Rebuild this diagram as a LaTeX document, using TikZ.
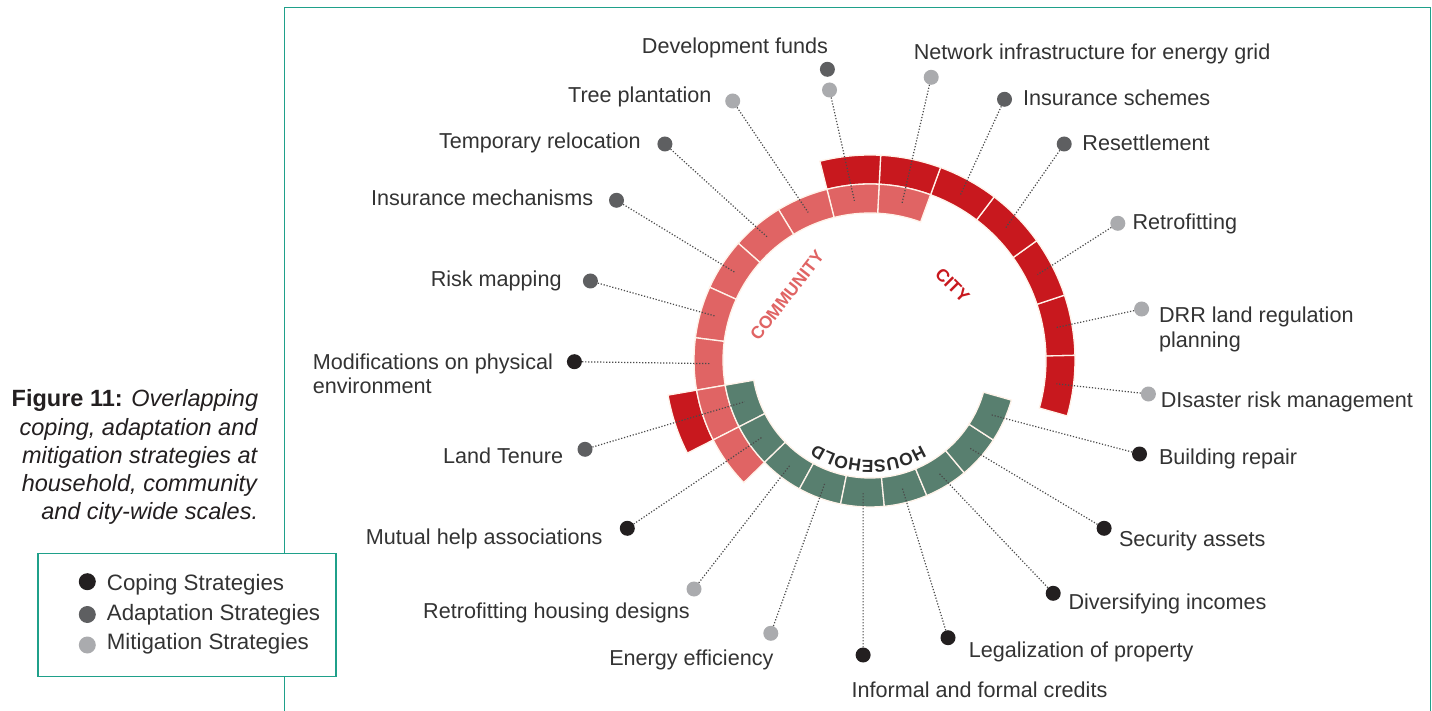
\documentclass[tikz,border=0pt]{standalone}
\usepackage{fontspec}
\setmainfont{Liberation Sans}
\usetikzlibrary{decorations.text}
\definecolor{cityc}{HTML}{C8181E}
\definecolor{commc}{HTML}{E06464}
\definecolor{housec}{HTML}{587F6F}
\definecolor{sepc}{HTML}{FFF3EA}
\definecolor{frmc}{HTML}{1FA08A}
\definecolor{txtc}{HTML}{333333}
\definecolor{copc}{HTML}{231F20}
\definecolor{adac}{HTML}{5E5F61}
\definecolor{mitc}{HTML}{AAABAE}
\definecolor{leadc}{HTML}{4A4A4A}
\definecolor{hhc}{HTML}{2A2A2A}
\newcommand\hhfont{\fontsize{17.5}{18}\selectfont\bfseries\color{hhc}}
\newcommand\ringseg[4]{%
  \pgfmathsetmacro\segA{1.3+#1*360/21}%
  \pgfmathsetmacro\segB{1.3+(#1+1)*360/21}%
  \path[segment, fill=#4] (\segA:#2pt) arc[start angle=\segA, end angle=\segB, radius=#2pt]
    -- (\segB:#3pt) arc[start angle=\segB, end angle=\segA, radius=#3pt] -- cycle;}
\begin{document}
\begin{tikzpicture}[x=1pt, y=-1pt,
  frameline/.style={draw=frmc, line width=1.6pt},
  segment/.style={draw=sepc, line width=1.3pt, line join=miter},
  leader/.style={draw=leadc, line width=1.2pt, dash pattern=on 1.2pt off 1.8pt},
  dotbase/.style={circle, inner sep=0pt, minimum size=15pt},
  dotcop/.style={dotbase, fill=copc},
  dotada/.style={dotbase, fill=adac},
  dotmit/.style={dotbase, fill=mitc},
  lbl/.style={inner sep=0pt, text=txtc, font=\fontsize{21.6}{24.5}\selectfont},
  lblL/.style={lbl, anchor=base east},
  lblR/.style={lbl, anchor=base west},
  scalelbl/.style={inner sep=0pt, font=\fontsize{17.5}{18}\selectfont\bfseries},
  legtxt/.style={inner sep=0pt, text=txtc, anchor=base west, font=\fontsize{22.3}{26}\selectfont},
  legdot/.style={circle, inner sep=0pt, minimum size=17pt}]
\useasboundingbox (0,0) rectangle (1432,711);
\fill[white] (0,0) rectangle (1432,711);

% frame
\draw[frameline] (284.6,711) -- (284.6,7.4) -- (1430.6,7.4) -- (1430.6,711);

% caption
\node[anchor=base east, inner sep=0pt, text=copc, font=\fontsize{23.5}{28.3}\selectfont] (caption) at (258.3,406.7)
 {\begin{tabular}[t]{@{}r@{}}\textbf{Figure 11:} \textit{Overlapping}\\\textit{coping, adaptation and}\\\textit{mitigation strategies at}\\\textit{household, community}\\\textit{and city-wide scales.}\end{tabular}};

% legend
\node[draw=frmc, line width=1.6pt, fill=white, anchor=north west, minimum width=297.7pt, minimum height=122.8pt, inner sep=0pt] (legend) at (37.3,552.7) {};
\node[legdot, fill=copc] (lgc) at (87.3,581.7) {};
\node[legdot, fill=adac] (lga) at (87.3,614.5) {};
\node[legdot, fill=mitc] (lgm) at (87.3,645) {};
\node[legtxt] (lgct) at (106.7,590) {Coping Strategies};
\node[legtxt] (lgat) at (106.7,620.7) {Adaptation Strategies};
\node[legtxt] (lgmt) at (106.7,649.3) {Mitigation Strategies};

% ring
\coordinate (C) at (870,360);
\begin{scope}[shift={(C)}]
  \foreach \k in {0,1,2,3,4,5,11,20} {\ringseg{\k}{176}{205}{cityc}}
  \foreach \k in {4,5,6,7,8,9,10,11,12} {\ringseg{\k}{147}{176}{commc}}
  \foreach \k in {11,12,13,14,15,16,17,18,19} {\ringseg{\k}{118}{147}{housec}}
  \foreach \k/\r in {0/188pt,1/188pt,2/188pt,3/188pt,4/160pt,5/160pt,6/160pt,7/160pt,8/160pt,9/160pt,10/160pt,
                     11/132pt,12/132pt,13/132pt,14/132pt,15/132pt,16/132pt,17/132pt,18/132pt,19/132pt,20/188pt}
    {\coordinate (e\k) at ({1.3+(\k+0.5)*360/21}:\r);}
  \path[decorate, decoration={text along path, text={|\hhfont|HOUSEHOLD}, text align=center}]
    (329:100pt) arc[start angle=329, end angle=209, radius=100pt];
\end{scope}
\node[scalelbl, text=commc, rotate=52] (community) at (787,295.5) {COMMUNITY};
\node[scalelbl, text=cityc, rotate=-45] (city) at (952.5,285) {CITY};

% dots
\node[dotmit] (d0) at (1141.6,309) {};
\node[dotmit] (d1) at (1117.8,223.3) {};
\node[dotada] (d2) at (1064.2,144) {};
\node[dotada] (d3) at (1004.5,99.3) {};
\node[dotmit] (d4) at (931.2,77.3) {};
\node[dotada] (d5a) at (827.4,69.3) {};
\node[dotmit] (d5) at (829.5,90) {};
\node[dotmit] (d6) at (732.7,101) {};
\node[dotada] (d7) at (664.9,144) {};
\node[dotada] (d8) at (616.5,200.3) {};
\node[dotada] (d9) at (590.4,281) {};
\node[dotcop] (d10) at (574.4,361.7) {};
\node[dotada] (d11) at (585,449.3) {};
\node[dotcop] (d12) at (627.3,528.3) {};
\node[dotmit] (d13) at (694,589) {};
\node[dotmit] (d14) at (770.8,633.3) {};
\node[dotcop] (d15) at (863.1,655) {};
\node[dotcop] (d16) at (948,637.7) {};
\node[dotcop] (d17) at (1053.2,593.3) {};
\node[dotcop] (d18) at (1104.1,528.3) {};
\node[dotcop] (d19) at (1139.5,454) {};
\node[dotmit] (d20) at (1148.4,394) {};

% leaders
\foreach \k in {0,1,2,3,4,5,6,7,8,9,10,11,12,13,14,15,16,17,18,19,20}
  {\draw[leader] (d\k) -- (e\k);}

% labels
\node[lblR] (t0) at (1158.9,322.7) {\begin{tabular}[t]{@{}l@{}}DRR land regulation\\planning\end{tabular}};
\node[lblR] (t1) at (1132.4,229.3) {Retrofitting};
\node[lblR] (t2) at (1082.2,150.7) {Resettlement};
\node[lblR] (t3) at (1022.8,106) {Insurance schemes};
\node[lblR] (t4) at (913.6,59.3) {Network infrastructure for energy grid};
\node[lbl, anchor=base] (t5) at (735,53.3) {Development funds};
\node[lblL] (t6) at (711.6,102.7) {Tree plantation};
\node[lblL] (t7) at (640.9,148.3) {Temporary relocation};
\node[lblL] (t8) at (593.3,205.3) {Insurance mechanisms};
\node[lblL] (t9) at (561.8,286.7) {Risk mapping};
\node[lblR] (t10) at (312.6,369.3) {\begin{tabular}[t]{@{}l@{}}Modifications on physical\\environment\end{tabular}};
\node[lblL] (t11) at (563.3,463.3) {Land Tenure};
\node[lblL] (t12) at (602.7,544) {Mutual help associations};
\node[lblL] (t13) at (690,618.3) {Retrofitting housing designs};
\node[lblL] (t14) at (773.6,665) {Energy efficiency};
\node[lbl, anchor=base] (t15) at (979.5,697.3) {Informal and formal credits};
\node[lblR] (t16) at (968.7,657.3) {Legalization of property};
\node[lblR] (t17) at (1068.3,609.3) {Diversifying incomes};
\node[lblR] (t18) at (1118.8,546.7) {Security assets};
\node[lblR] (t19) at (1158.8,464) {Building repair};
\node[lblR] (t20) at (1160.6,407.3) {DIsaster risk management};
\end{tikzpicture}
\end{document}
